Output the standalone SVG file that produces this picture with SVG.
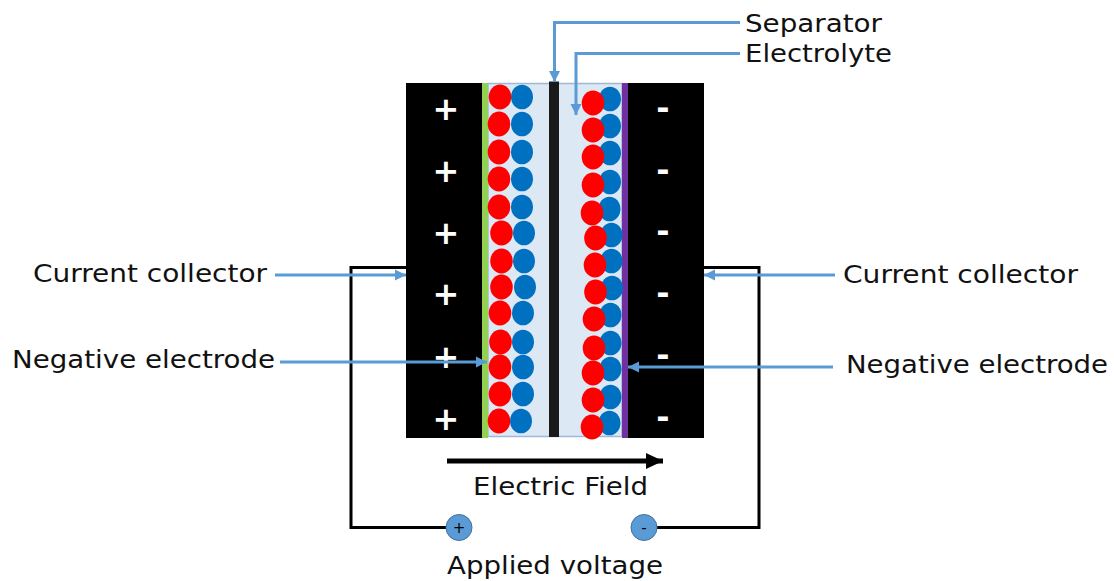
<svg xmlns="http://www.w3.org/2000/svg" width="1114" height="581" viewBox="0 0 1114 581">
<style>
.lbl{font-family:"DejaVu Sans","Verdana",sans-serif;font-size:25px;fill:#111;}
.sign{font-family:"DejaVu Sans",sans-serif;font-size:32px;font-weight:bold;fill:#fff;text-anchor:middle;}
.wire{fill:none;stroke:#000;stroke-width:3;}
.lead{fill:none;stroke:#5b9bd5;stroke-width:3;}
.red{fill:#ff0000;}
.blue{fill:#0070c0;}
.term{fill:#5b9bd5;stroke:#41719c;stroke-width:1;}
.tsign{font-family:"DejaVu Sans",sans-serif;font-size:15px;fill:#000;text-anchor:middle;}
</style>
<defs>
<marker id="ah" markerUnits="userSpaceOnUse" markerWidth="12" markerHeight="12" refX="11" refY="6" orient="auto">
<path d="M0,0.5 L11,6 L0,11.5 z" fill="#5b9bd5"/>
</marker>
<marker id="bh" markerUnits="userSpaceOnUse" markerWidth="18" markerHeight="16" refX="17" refY="8" orient="auto">
<path d="M0,0 L17,8 L0,16 z" fill="#000"/>
</marker>
</defs>
<rect width="1114" height="581" fill="#fff"/>

<g id="left-collector">
<rect x="406" y="83" width="76" height="355" fill="#000"/>
<text class="sign" x="446" y="120">+</text>
<text class="sign" x="446" y="182">+</text>
<text class="sign" x="446" y="244">+</text>
<text class="sign" x="446" y="305">+</text>
<text class="sign" x="446" y="368">+</text>
<text class="sign" x="446" y="430">+</text>
</g>
<g id="right-collector">
<rect x="628" y="83" width="76" height="355" fill="#000"/>
<text class="sign" x="663" y="119">-</text>
<text class="sign" x="663" y="181">-</text>
<text class="sign" x="663" y="242">-</text>
<text class="sign" x="663" y="304">-</text>
<text class="sign" x="663" y="366">-</text>
<text class="sign" x="663" y="428">-</text>
</g>
<g id="electrolyte">
<rect x="488" y="83.5" width="134" height="353" fill="#dde8f5" stroke="#9fb8d8" stroke-width="1.5"/>
</g>
<g id="left-electrode">
<rect x="482" y="83" width="6" height="355" fill="#92d050"/>
</g>
<g id="right-electrode">
<rect x="622" y="83" width="6" height="355" fill="#7030a0"/>
</g>
<g id="separator">
<rect x="549" y="81.5" width="10" height="355.5" fill="#1a1a1a"/>
</g>

<g id="left-ions">
<ellipse class="blue" cx="522" cy="97" rx="11" ry="12.3"/>
<ellipse class="blue" cx="522" cy="124" rx="11" ry="12.3"/>
<ellipse class="blue" cx="522" cy="152" rx="11" ry="12.3"/>
<ellipse class="blue" cx="522" cy="179" rx="11" ry="12.3"/>
<ellipse class="blue" cx="522" cy="207" rx="11" ry="12.3"/>
<ellipse class="blue" cx="524" cy="233" rx="11" ry="12.3"/>
<ellipse class="blue" cx="524" cy="261" rx="11" ry="12.3"/>
<ellipse class="blue" cx="525" cy="287" rx="11" ry="12.3"/>
<ellipse class="blue" cx="523" cy="313" rx="11" ry="12.3"/>
<ellipse class="blue" cx="523" cy="342" rx="11" ry="12.3"/>
<ellipse class="blue" cx="523" cy="367" rx="11" ry="12.3"/>
<ellipse class="blue" cx="523" cy="394" rx="11" ry="12.3"/>
<ellipse class="blue" cx="521" cy="421" rx="11" ry="12.3"/>
<ellipse class="red" cx="500" cy="97" rx="11.3" ry="12.5"/>
<ellipse class="red" cx="499" cy="124" rx="11.3" ry="12.5"/>
<ellipse class="red" cx="499" cy="152" rx="11.3" ry="12.5"/>
<ellipse class="red" cx="499" cy="179" rx="11.3" ry="12.5"/>
<ellipse class="red" cx="499" cy="207" rx="11.3" ry="12.5"/>
<ellipse class="red" cx="501.5" cy="233" rx="11.3" ry="12.5"/>
<ellipse class="red" cx="501.5" cy="261" rx="11.3" ry="12.5"/>
<ellipse class="red" cx="501.5" cy="287" rx="11.3" ry="12.5"/>
<ellipse class="red" cx="500" cy="313" rx="11.3" ry="12.5"/>
<ellipse class="red" cx="500.5" cy="342" rx="11.3" ry="12.5"/>
<ellipse class="red" cx="500" cy="367" rx="11.3" ry="12.5"/>
<ellipse class="red" cx="500" cy="394" rx="11.3" ry="12.5"/>
<ellipse class="red" cx="499" cy="421" rx="11.3" ry="12.5"/>
</g>
<g id="right-ions">
<ellipse class="blue" cx="610" cy="99" rx="11" ry="12.3"/>
<ellipse class="blue" cx="610" cy="126" rx="11" ry="12.3"/>
<ellipse class="blue" cx="610" cy="153" rx="11" ry="12.3"/>
<ellipse class="blue" cx="610" cy="182" rx="11" ry="12.3"/>
<ellipse class="blue" cx="609.5" cy="209" rx="11" ry="12.3"/>
<ellipse class="blue" cx="611.5" cy="235" rx="11" ry="12.3"/>
<ellipse class="blue" cx="611.5" cy="261" rx="11" ry="12.3"/>
<ellipse class="blue" cx="612" cy="288" rx="11" ry="12.3"/>
<ellipse class="blue" cx="610.5" cy="315" rx="11" ry="12.3"/>
<ellipse class="blue" cx="610.5" cy="343" rx="11" ry="12.3"/>
<ellipse class="blue" cx="610.5" cy="369" rx="11" ry="12.3"/>
<ellipse class="blue" cx="610.5" cy="397" rx="11" ry="12.3"/>
<ellipse class="blue" cx="609.5" cy="423" rx="11" ry="12.3"/>
<ellipse class="red" cx="593" cy="103" rx="11.3" ry="12.5"/>
<ellipse class="red" cx="593" cy="130" rx="11.3" ry="12.5"/>
<ellipse class="red" cx="593" cy="157" rx="11.3" ry="12.5"/>
<ellipse class="red" cx="593" cy="185" rx="11.3" ry="12.5"/>
<ellipse class="red" cx="592" cy="213" rx="11.3" ry="12.5"/>
<ellipse class="red" cx="595.5" cy="238" rx="11.3" ry="12.5"/>
<ellipse class="red" cx="595" cy="265" rx="11.3" ry="12.5"/>
<ellipse class="red" cx="595.5" cy="292" rx="11.3" ry="12.5"/>
<ellipse class="red" cx="594" cy="319" rx="11.3" ry="12.5"/>
<ellipse class="red" cx="594" cy="348" rx="11.3" ry="12.5"/>
<ellipse class="red" cx="593" cy="373" rx="11.3" ry="12.5"/>
<ellipse class="red" cx="593" cy="400" rx="11.3" ry="12.5"/>
<ellipse class="red" cx="592" cy="427" rx="11.3" ry="12.5"/>
</g>

<g id="connectors">
<path class="wire" d="M406,267.5 H351 V527.5 H446"/>
<path class="wire" d="M657,527.5 H759 V267.5 H704"/>
<path class="lead" d="M275,275 H406" marker-end="url(#ah)"/>
<path class="lead" d="M280,362 H487" marker-end="url(#ah)"/>
<path class="lead" d="M835,275 H704" marker-end="url(#ah)"/>
<path class="lead" d="M833,367 H628" marker-end="url(#ah)"/>
<path class="lead" d="M740,22.5 H554.5 V82" marker-end="url(#ah)"/>
<path class="lead" d="M740,53.5 H576 V115" marker-end="url(#ah)"/>
<path d="M447,461 H663" fill="none" stroke="#000" stroke-width="5" marker-end="url(#bh)"/>
</g>

<g id="plus-terminal">
<circle class="term" cx="459" cy="527.5" r="13"/>
<text class="tsign" x="459" y="533">+</text>
</g>
<g id="minus-terminal">
<circle class="term" cx="644" cy="527.5" r="13"/>
<text class="tsign" x="644" y="533">-</text>
</g>

<g id="labels">
<text class="lbl" x="745" y="31.5" textLength="137" lengthAdjust="spacingAndGlyphs">Separator</text>
<text class="lbl" x="745" y="61.5" textLength="147" lengthAdjust="spacingAndGlyphs">Electrolyte</text>
<text class="lbl" x="33" y="282" textLength="234" lengthAdjust="spacingAndGlyphs">Current collector</text>
<text class="lbl" x="12" y="368" textLength="263" lengthAdjust="spacingAndGlyphs">Negative electrode</text>
<text class="lbl" x="843" y="283" textLength="235" lengthAdjust="spacingAndGlyphs">Current collector</text>
<text class="lbl" x="846" y="373" textLength="262" lengthAdjust="spacingAndGlyphs">Negative electrode</text>
<text class="lbl" x="473" y="495" textLength="175" lengthAdjust="spacingAndGlyphs">Electric Field</text>
<text class="lbl" x="447" y="574" textLength="216" lengthAdjust="spacingAndGlyphs">Applied voltage</text>
</g>
</svg>
